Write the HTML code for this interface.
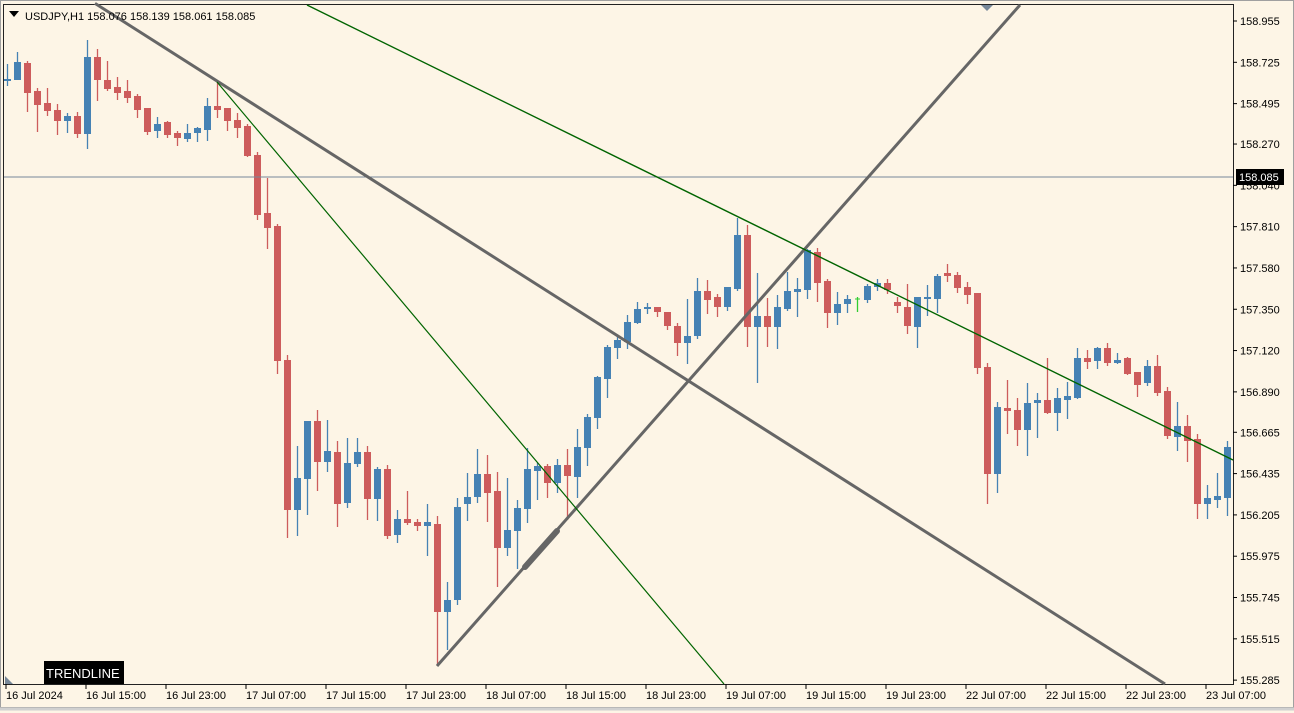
<!DOCTYPE html>
<html><head><meta charset="utf-8"><style>
html,body{margin:0;padding:0;background:#fdf5e6;}
svg{display:block;}
text{font-family:"Liberation Sans",sans-serif;font-size:11px;fill:#000;}
</style></head><body>
<svg id="s" width="1294" height="713" xmlns="http://www.w3.org/2000/svg">
<rect x="0" y="0" width="1294" height="713" fill="#fdf5e6"/>
<rect x="0.5" y="0.5" width="1293" height="707" fill="none" stroke="#a0a0a0"/>
<line x1="0" y1="709" x2="1294" y2="709" stroke="#d0d0d0" stroke-width="3"/>
<rect x="3.5" y="4.5" width="1230" height="680" fill="none" stroke="#222" stroke-width="1"/>
<g id="c"></g>
<line x1="4" y1="177" x2="1233" y2="177" stroke="#778899" stroke-width="1"/>
<line x1="95" y1="3.4" x2="1165" y2="684" stroke="#666" stroke-width="3"/>
<line x1="437" y1="666" x2="1020" y2="5" stroke="#666" stroke-width="3"/>
<line x1="525" y1="567" x2="557" y2="531" stroke="#666" stroke-width="6" stroke-linecap="round"/>
<line x1="217" y1="82" x2="724" y2="684" stroke="#006400" stroke-width="1.2"/>
<line x1="307" y1="5" x2="1233" y2="460" stroke="#006400" stroke-width="1.4"/>
<polygon points="981,5 993,5 987,11" fill="#778899"/>
<polygon points="5,676 5,684 13,684" fill="#778899"/>
<polygon points="9,11 19,11 14,17" fill="#000"/>
<text x="25" y="20">USDJPY,H1  158.076 158.139 158.061 158.085</text>
<rect x="44" y="661" width="80" height="23" fill="#000"/>
<text x="46" y="678" style="fill:#fff;font-size:13px">TRENDLINE</text>
<g id="ax"></g>
<rect x="1236" y="169" width="48" height="16" fill="#000"/>
<text x="1239" y="181" style="fill:#fff">158.085</text>
</svg>
<script>
var d=[[7,64,86,79,81,1],[17,52,80,62,80,1],[27,61,112,63,93,0],[37,88,132,91,105,0],[47,88,116,103,111,0],[57,104,135,110,121,0],[67,113,133,116,121,1],[77,112,138,116,134,0],[87,40,149,57,134,1],[97,49,101,57,80,0],[107,61,91,80,89,0],[117,77,100,87,93,0],[127,80,103,91,98,0],[137,94,118,96,110,0],[147,108,135,108,132,0],[157,117,138,124,131,1],[167,121,138,122,135,0],[177,131,146,133,138,0],[187,124,142,133,139,1],[197,127,142,128,133,1],[207,98,141,106,130,1],[217,82,118,106,110,0],[227,108,131,108,121,0],[237,113,138,120,128,0],[247,124,157,126,156,0],[257,152,220,155,215,0],[267,178,249,213,228,0],[277,224,374,226,361,0],[287,355,538,360,510,0],[297,446,536,478,510,1],[307,421,515,421,479,1],[317,410,491,421,462,0],[327,420,472,451,462,1],[337,441,527,452,504,0],[347,438,508,463,503,1],[357,438,467,452,464,1],[367,446,520,452,499,0],[377,467,521,469,499,1],[387,465,539,469,536,0],[397,510,543,519,535,1],[407,491,525,519,523,0],[417,519,531,522,526,0],[427,504,556,522,526,1],[437,516,666,524,612,0],[447,582,650,600,612,1],[457,498,605,507,600,1],[467,473,521,497,504,1],[477,449,503,474,497,1],[487,455,522,474,493,0],[497,472,587,491,548,0],[507,478,556,530,548,1],[517,500,569,508,531,1],[527,448,523,469,509,1],[537,463,500,466,471,1],[547,464,498,466,483,0],[557,459,493,465,483,1],[567,449,520,465,476,0],[577,429,498,447,477,1],[587,414,466,417,448,1],[597,376,429,377,418,1],[607,345,398,347,379,1],[617,337,359,340,348,1],[627,315,349,322,342,1],[637,302,324,309,323,1],[647,303,314,307,309,1],[657,307,317,307,312,0],[667,312,330,312,326,0],[677,323,356,326,343,0],[687,299,364,336,343,1],[697,278,339,291,336,1],[707,280,314,291,300,0],[717,294,317,297,307,0],[727,287,311,287,307,1],[737,218,291,235,289,1],[747,225,347,235,327,0],[757,273,383,316,327,1],[767,298,347,316,327,0],[777,295,349,307,327,1],[787,272,311,291,309,1],[797,278,317,289,292,1],[807,249,299,250,290,1],[817,248,302,252,283,0],[827,279,328,281,313,0],[837,292,325,304,313,1],[847,295,313,299,304,1],[857,297,312,299,300,2],[867,284,303,286,300,1],[877,279,291,283,287,1],[887,279,294,283,290,0],[897,297,313,302,306,0],[907,284,334,307,326,0],[917,297,348,297,327,1],[927,285,316,297,299,1],[937,274,313,276,299,1],[947,264,282,273,276,0],[957,272,293,275,288,0],[967,282,304,287,295,0],[977,293,374,293,368,0],[987,363,504,367,474,0],[997,402,493,407,474,1],[1007,380,434,408,411,0],[1017,398,446,410,430,0],[1027,383,456,403,430,1],[1037,393,438,400,403,1],[1047,358,414,400,413,0],[1057,388,431,398,413,1],[1067,382,419,396,400,1],[1077,348,399,358,398,1],[1087,350,369,358,362,0],[1097,347,369,348,361,1],[1107,343,366,348,363,0],[1117,353,364,360,363,1],[1127,357,375,358,374,0],[1137,372,397,372,385,0],[1147,360,386,366,383,1],[1157,355,396,366,393,0],[1167,387,439,391,436,0],[1177,402,451,426,437,1],[1187,415,462,426,441,0],[1197,434,519,439,504,0],[1207,485,519,498,504,1],[1217,473,508,496,500,1],[1227,441,516,447,498,1]];
var g=document.getElementById('c'),h='';
var col=['#cd5c5c','#4682b4','#32cd32'];
d.forEach(function(c){var k=col[c[5]];h+='<line x1="'+(c[0]+.5)+'" y1="'+c[1]+'" x2="'+(c[0]+.5)+'" y2="'+c[2]+'" stroke="'+k+'" stroke-width="1.3"/>';var bh=Math.max(c[4]-c[3],2);if(c[5]==2){h+='<line x1="'+(c[0]-2)+'" y1="'+c[3]+'" x2="'+(c[0]+3)+'" y2="'+c[3]+'" stroke="'+k+'"/>';}else h+='<rect x="'+(c[0]-3)+'" y="'+c[3]+'" width="7" height="'+bh+'" fill="'+k+'"/>';});
g.innerHTML=h;
var a='',p=[158.955,158.725,158.495,158.270,158.040,157.810,157.580,157.350,157.120,156.890,156.665,156.435,156.205,155.975,155.745,155.515,155.285];
p.forEach(function(v,i){var y=21+(158.955-v)*179.6;a+='<line x1="1233" y1="'+y+'" x2="1237" y2="'+y+'" stroke="#000"/><text x="1240" y="'+(y+4)+'">'+v.toFixed(3)+'</text>';});
var t=['16 Jul 2024','16 Jul 15:00','16 Jul 23:00','17 Jul 07:00','17 Jul 15:00','17 Jul 23:00','18 Jul 07:00','18 Jul 15:00','18 Jul 23:00','19 Jul 07:00','19 Jul 15:00','19 Jul 23:00','22 Jul 07:00','22 Jul 15:00','22 Jul 23:00','23 Jul 07:00'];
t.forEach(function(s,i){var x=6+80*i;a+='<line x1="'+x+'" y1="684" x2="'+x+'" y2="689" stroke="#000"/><text x="'+x+'" y="699">'+s+'</text>';});
document.getElementById('ax').innerHTML=a;
</script>
</body></html>
